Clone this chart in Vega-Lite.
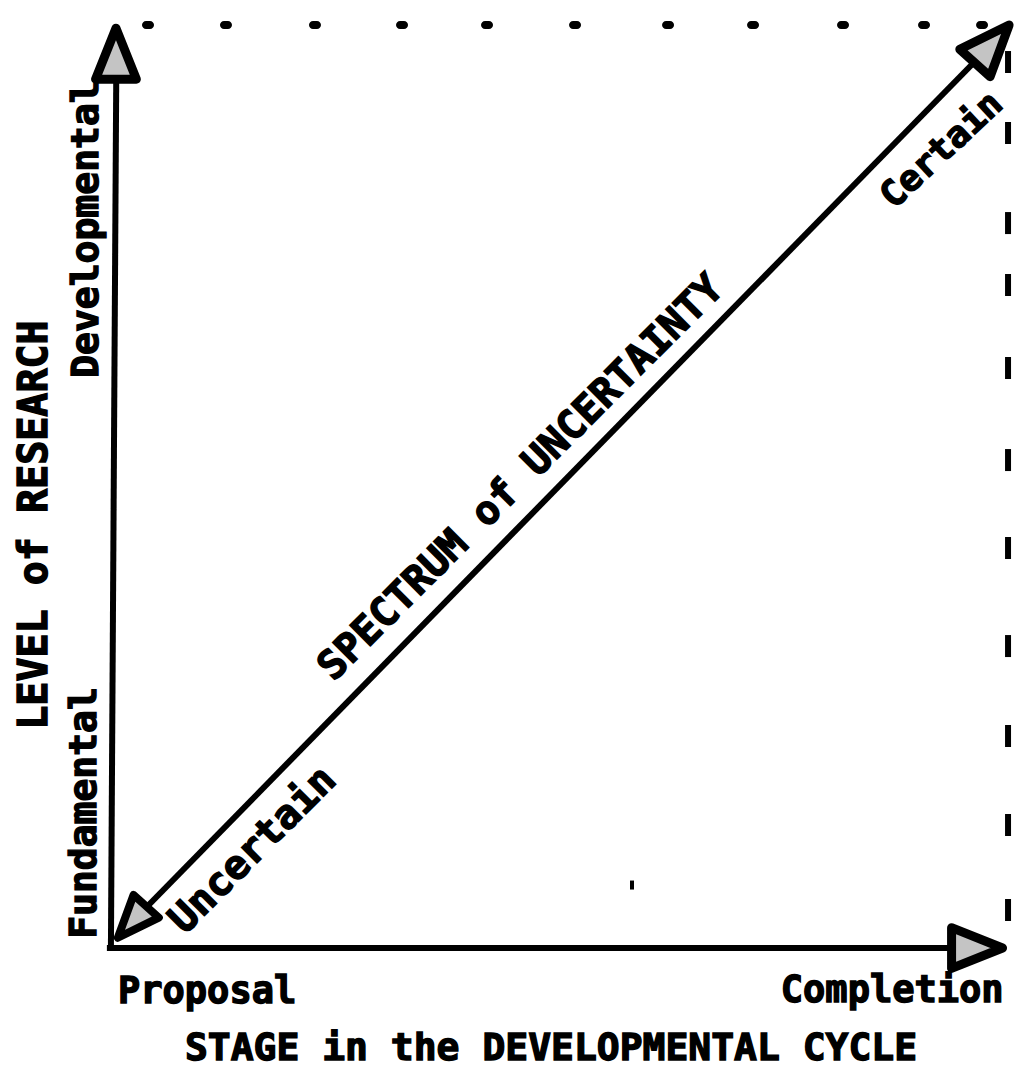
{
  "$schema": "https://vega.github.io/schema/vega-lite/v6.json",
  "width": 1014,
  "height": 1068,
  "padding": 0,
  "autosize": {"type": "none"},
  "background": "white",
  "config": {"view": {"stroke": null}, "text": {"stroke": "black", "strokeWidth": 1.4, "font": "DejaVu Sans Mono", "fontWeight": "bold", "color": "black"}},
  "encoding": {
    "x": {"field": "x", "type": "quantitative", "axis": null, "scale": {"domain": [-12.36, 101.57], "nice": false, "zero": false}},
    "y": {"field": "y", "type": "quantitative", "axis": null, "scale": {"domain": [-13.79, 108.97], "nice": false, "zero": false}}
  },
  "layer": [
    {
      "data": {"values": [
        {"seg": "level axis", "x": 0.1, "y": -0.25, "x2": 0.7, "y2": 99.8},
        {"seg": "stage axis", "x": -0.35, "y": 0, "x2": 95, "y2": 0},
        {"seg": "spectrum", "x": 2.47, "y": 2.99, "x2": 99.1, "y2": 103.91}
      ]},
      "mark": {"type": "rule", "color": "black", "strokeWidth": 6},
      "encoding": {"x2": {"field": "x2"}, "y2": {"field": "y2"}}
    },
    {
      "data": {"values": [
        {"x": 4.27, "y": 106.09}, {"x": 13.03, "y": 106.09}, {"x": 23.03, "y": 106.09},
        {"x": 32.81, "y": 106.09}, {"x": 42.36, "y": 106.09}, {"x": 52.25, "y": 106.09},
        {"x": 62.7, "y": 106.09}, {"x": 72.25, "y": 106.09}, {"x": 82.36, "y": 106.09},
        {"x": 91.46, "y": 106.09}, {"x": 97.98, "y": 106.09}
      ]},
      "mark": {"type": "tick", "orient": "horizontal", "color": "black", "size": 12, "thickness": 8, "opacity": 1, "cornerRadius": 4}
    },
    {
      "data": {"values": [
        {"x": 100.9, "y": 101.84}, {"x": 100.9, "y": 93.68}, {"x": 100.9, "y": 83.33},
        {"x": 100.9, "y": 76.21}, {"x": 100.9, "y": 66.67}, {"x": 100.9, "y": 56.09},
        {"x": 100.9, "y": 45.98}, {"x": 100.9, "y": 34.71}, {"x": 100.9, "y": 24.37},
        {"x": 100.9, "y": 14.14}, {"x": 100.9, "y": 4.37}
      ]},
      "mark": {"type": "tick", "orient": "vertical", "color": "black", "size": 22, "thickness": 6, "opacity": 1}
    },
    {
      "data": {"values": [{"x": 58.65, "y": 7.24}]},
      "mark": {"type": "tick", "orient": "vertical", "color": "black", "size": 9, "thickness": 4, "opacity": 1}
    },
    {
      "data": {"values": [{"head": "level", "x": 0.67, "y": 102.8}]},
      "mark": {"type": "point", "shape": "M0,-1L0.8,1L-0.8,1Z", "filled": true, "fill": "#c4c4c4", "stroke": "black", "strokeWidth": 9, "strokeJoin": "round", "size": 2600, "angle": 0, "opacity": 1}
    },
    {
      "data": {"values": [{"head": "stage", "x": 97.42, "y": 0}]},
      "mark": {"type": "point", "shape": "M0,-1L0.8,1L-0.8,1Z", "filled": true, "fill": "#c4c4c4", "stroke": "black", "strokeWidth": 9, "strokeJoin": "round", "size": 2600, "angle": 90, "opacity": 1}
    },
    {
      "data": {"values": [{"head": "certain", "x": 99.1, "y": 103.91}]},
      "mark": {"type": "point", "shape": "M0,-1L0.8,1L-0.8,1Z", "filled": true, "fill": "#c4c4c4", "stroke": "black", "strokeWidth": 9, "strokeJoin": "round", "size": 2600, "angle": 42, "opacity": 1}
    },
    {
      "data": {"values": [{"head": "uncertain", "x": 2.47, "y": 2.99}]},
      "mark": {"type": "point", "shape": "M0,-1L0.8,1L-0.8,1Z", "filled": true, "fill": "#c4c4c4", "stroke": "black", "strokeWidth": 8, "strokeJoin": "round", "size": 1800, "angle": 222, "opacity": 1}
    },
    {
      "data": {"values": [
        {"label": "Developmental", "x": -2.58, "y": 82.64},
        {"label": "Fundamental", "x": -2.81, "y": 15.52}
      ]},
      "mark": {"type": "text", "fontSize": 38, "angle": -90, "align": "center", "baseline": "middle"},
      "encoding": {"text": {"field": "label"}}
    },
    {
      "data": {"values": [{"label": "LEVEL of RESEARCH", "x": -8.43, "y": 48.62}]},
      "mark": {"type": "text", "fontSize": 40, "angle": -90, "align": "center", "baseline": "middle"},
      "encoding": {"text": {"field": "label"}}
    },
    {
      "data": {"values": [{"label": "Proposal", "x": 0.9, "y": -6.32}]},
      "mark": {"type": "text", "fontSize": 37, "align": "left", "baseline": "alphabetic"},
      "encoding": {"text": {"field": "label"}}
    },
    {
      "data": {"values": [{"label": "Completion", "x": 100.4, "y": -6.21}]},
      "mark": {"type": "text", "fontSize": 37, "align": "right", "baseline": "alphabetic"},
      "encoding": {"text": {"field": "label"}}
    },
    {
      "data": {"values": [{"label": "STAGE in the DEVELOPMENTAL CYCLE", "x": 49.55, "y": -12.87}]},
      "mark": {"type": "text", "fontSize": 38, "align": "center", "baseline": "alphabetic"},
      "encoding": {"text": {"field": "label"}}
    },
    {
      "data": {"values": [
        {"label": "SPECTRUM of UNCERTAINTY", "x": 46.2, "y": 54.02},
        {"label": "Uncertain", "x": 16.07, "y": 11.26}
      ]},
      "mark": {"type": "text", "fontSize": 40, "angle": -45, "align": "center", "baseline": "middle"},
      "encoding": {"text": {"field": "label"}}
    },
    {
      "data": {"values": [{"label": "Certain", "x": 93.45, "y": 91.7}]},
      "mark": {"type": "text", "fontSize": 36, "angle": -43, "align": "center", "baseline": "middle"},
      "encoding": {"text": {"field": "label"}}
    }
  ]
}
